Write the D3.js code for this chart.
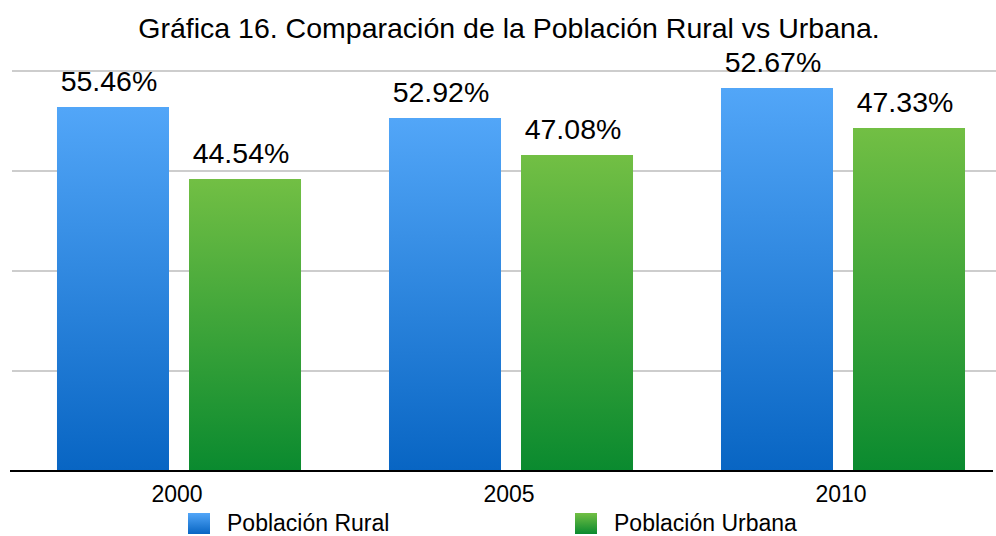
<!doctype html>
<html>
<head>
<meta charset="utf-8">
<script src="https://cdn.jsdelivr.net/npm/d3@7"></script>
<style>
  body { margin: 0; background: #fff; }
  text { font-family: "Liberation Sans", Arial, sans-serif; fill: #000; }
</style>
</head>
<body>
<svg width="996" height="536"></svg>
<script>
// data (bar heights are the underlying population counts, labels the shares)
var years = ["2000", "2005", "2010"];
var series = ["Población Rural", "Población Urbana"];
var rural = [36400, 35300, 38300];
var urbana = [29200, 31600, 34300];
var ruralLabels = ["55.46%", "52.92%", "52.67%"];
var urbanaLabels = ["44.54%", "47.08%", "47.33%"];
var yTicks = [10000, 20000, 30000, 40000];

var svg = d3.select("svg");

// gradients
var defs = svg.append("defs");
function grad(id, top, bottom) {
    var g = defs.append("linearGradient").attr("id", id)
        .attr("x1", 0).attr("y1", 0).attr("x2", 0).attr("y2", 1);
    g.append("stop").attr("offset", "0%").attr("stop-color", top);
    g.append("stop").attr("offset", "100%").attr("stop-color", bottom);
}
grad("gRural", "#52a6f8", "#0865c3");
grad("gUrbana", "#72bf44", "#0a8a2f");
var fills = ["url(#gRural)", "url(#gUrbana)"];

var x0 = d3.scaleBand().domain(years).range([13, 1009])
    .paddingInner(0.265).paddingOuter(0.1325);
var x1 = d3.scaleBand().domain(series).range([0, x0.bandwidth()])
    .paddingInner(0.1515);
var y = d3.scaleLinear().domain([0, 40000]).range([471, 71]);

// title
svg.append("text")
    .attr("x", 509).attr("y", 38)
    .attr("text-anchor", "middle")
    .style("font-size", "28.5px")
    .text("Gráfica 16. Comparación de la Población Rural vs Urbana.");

// gridlines
svg.append("g").selectAll("line")
    .data(yTicks).enter().append("line")
    .attr("x1", 12).attr("x2", 996)
    .attr("y1", function(d) { return y(d); })
    .attr("y2", function(d) { return y(d); })
    .style("stroke", "#bdbdbd").style("stroke-width", 1.5);

// bars
var rows = years.map(function(yr, i) {
    return { year: yr, vals: [
        { s: series[0], v: rural[i], label: ruralLabels[i], k: 0 },
        { s: series[1], v: urbana[i], label: urbanaLabels[i], k: 1 }
    ]};
});

var grp = svg.append("g").selectAll("g")
    .data(rows).enter().append("g")
    .attr("transform", function(d) { return "translate(" + x0(d.year) + ",0)"; });

grp.selectAll("rect")
    .data(function(d) { return d.vals; })
    .enter().append("rect")
    .attr("x", function(d) { return x1(d.s); })
    .attr("y", function(d) { return y(d.v); })
    .attr("width", x1.bandwidth())
    .attr("height", function(d) { return y(0) - y(d.v); })
    .style("fill", function(d) { return fills[d.k]; });

grp.selectAll("text")
    .data(function(d) { return d.vals; })
    .enter().append("text")
    .attr("x", function(d) { return x1(d.s) + x1.bandwidth() / 2 - 4; })
    .attr("y", function(d) { return y(d.v) - 16; })
    .attr("text-anchor", "middle")
    .style("font-size", "28.5px")
    .text(function(d) { return d.label; });

// baseline
svg.append("line")
    .attr("x1", 10).attr("x2", 993)
    .attr("y1", y(0)).attr("y2", y(0))
    .style("stroke", "#000").style("stroke-width", 2);

// x axis labels
svg.append("g").selectAll("text")
    .data(years).enter().append("text")
    .attr("x", function(d) { return x0(d) + x0.bandwidth() / 2 - 2; })
    .attr("y", 502)
    .attr("text-anchor", "middle")
    .style("font-size", "23px")
    .text(function(d) { return d; });

// legend
var legX = [188, 575];
var leg = svg.append("g").selectAll("g")
    .data(series).enter().append("g")
    .attr("transform", function(d, i) { return "translate(" + legX[i] + ",513)"; });
leg.append("rect")
    .attr("width", 22).attr("height", 21)
    .style("fill", function(d, i) { return fills[i]; });
leg.append("text")
    .attr("x", 39).attr("y", 18)
    .style("font-size", "23px")
    .text(function(d) { return d; });
</script>
</body>
</html>
